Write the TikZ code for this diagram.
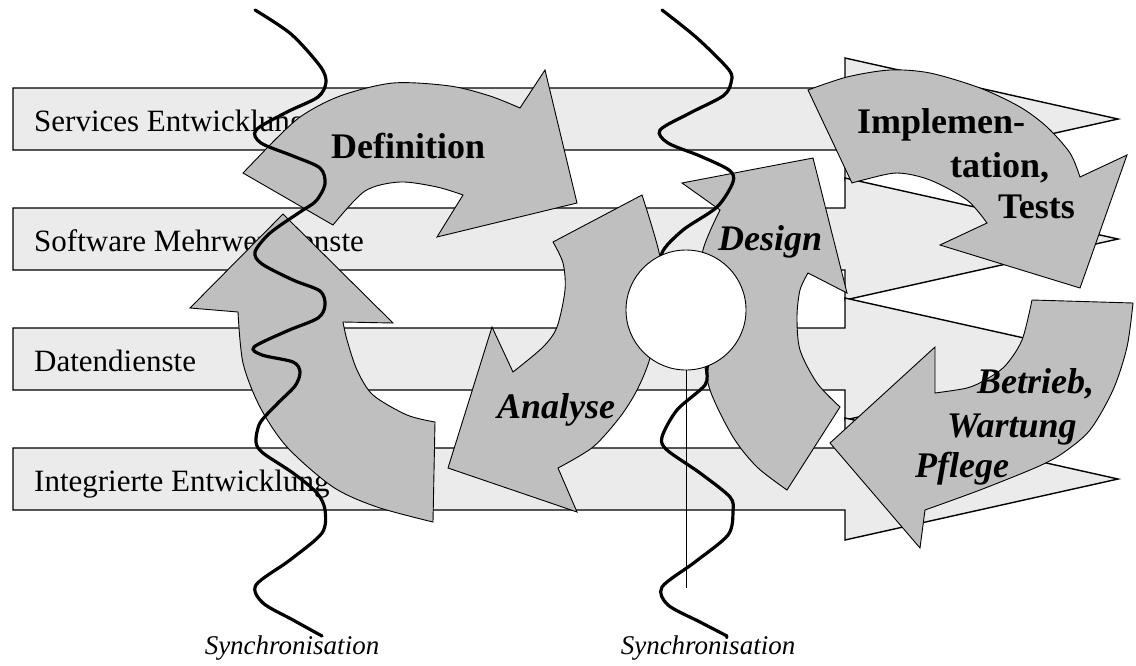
\documentclass[tikz,border=0pt]{standalone}
\usepackage{fontspec}
\setmainfont{Liberation Serif}
\definecolor{bandgray}{gray}{0.92}
\definecolor{phasegray}{gray}{0.75}
\tikzset{
  band/.style={fill=bandgray, draw=black, line width=1.4pt},
  phasearrow/.style={fill=phasegray, draw=black, line width=0.9pt},
  sync/.style={line width=3.2pt, line cap=round},
  bandtext/.style={anchor=base west, inner sep=0pt, font=\fontsize{31}{35}\selectfont},
  phase/.style={anchor=base west, inner sep=0pt, font=\fontsize{36}{40}\selectfont\bfseries},
  phaseit/.style={phase, font=\fontsize{36}{40}\selectfont\bfseries\itshape},
  synctext/.style={inner sep=0pt, font=\fontsize{27}{31}\selectfont\itshape}
}
\begin{document}
\begin{tikzpicture}[x=1pt, y=-1pt]
\useasboundingbox (0,0) rectangle (1136,665);

\draw[band] (13,88) -- (845,88) -- (845,58) -- (1118,119) -- (845,180) -- (845,150) -- (13,150) -- cycle;
\draw[band] (13,208) -- (845,208) -- (845,178) -- (1118,239) -- (845,300) -- (845,270) -- (13,270) -- cycle;
\draw[band] (13,328) -- (845,328) -- (845,298) -- (1118,359) -- (845,420) -- (845,390) -- (13,390) -- cycle;
\draw[band] (13,448) -- (845,448) -- (845,418) -- (1118,479) -- (845,540) -- (845,510) -- (13,510) -- cycle;

\node[bandtext] (services) at (34,131) {Services Entwicklung};
\node[bandtext] (software) at (34,251) {Software Mehrwertdienste};
\node[bandtext] (daten) at (34,371) {Datendienste};
\node[bandtext] (integriert) at (34,491) {Integrierte Entwicklung};

\draw[phasearrow] (243,173) -- (267,148)
  -- plot[smooth] coordinates {(267,148) (300,117) (340,96) (393,83) (450,86) (490,96) (520,108)}
  -- (545,70) -- (577,203) -- (437,237) -- (463,195)
  -- plot[smooth] coordinates {(463,195) (437,187) (400,182) (365,191) (333,225)} -- cycle;

\draw[phasearrow] (238,312)
  -- plot[smooth] coordinates {(238,312) (243,363) (260,407) (287,447) (333,487) (377,507) (433,522)}
  -- (435,422)
  -- plot[smooth] coordinates {(435,422) (407,415) (373,395) (357,370) (347,340) (343,322)}
  -- (393,323) -- (283,214) -- (190,308) -- cycle;

\draw[phasearrow] (553,242) -- (642,195)
  -- plot[smooth] coordinates {(642,195) (660,257) (661,305) (650,358) (637,390) (620,417) (593,447) (558,468)}
  -- (577,512) -- (448,468) -- (492,327) -- (513,372)
  -- plot[smooth] coordinates {(513,372) (543,347) (557,327) (565,290) (563,263) (553,242)} -- cycle;

\draw[phasearrow] (787,490) -- (840,407)
  -- plot[smooth] coordinates {(840,407) (817,383) (800,350) (797,317) (800,290) (808,273)}
  -- (847,293) -- (813,158) -- (682,183) -- (720,210)
  -- plot[smooth] coordinates {(720,210) (703,250) (698,300) (702,345) (710,390) (733,437) (757,467) (787,490)} -- cycle;

\draw[phasearrow] (808,90)
  -- plot[smooth] coordinates {(808,90) (847,77) (890,70) (930,73) (980,88) (1020,107) (1047,127) (1070,153) (1080,177)}
  -- (1127,155) -- (1080,288) -- (940,245) -- (987,223)
  -- plot[smooth] coordinates {(987,223) (967,200) (930,180) (897,173) (863,180) (852,183)} -- cycle;

\draw[phasearrow] (1032,300) -- (1133,303)
  -- plot[smooth] coordinates {(1133,303) (1127,347) (1113,390) (1090,430) (1063,453) (1037,467) (980,490) (925,510)}
  -- (920,548) -- (830,443) -- (935,347) -- (935,393)
  -- plot[smooth] coordinates {(935,393) (967,388) (985,380) (1005,366) (1022,340) (1032,300)} -- cycle;

\node[phase] (definition) at (331,158) {Definition};
\node[phaseit] (analyse) at (497,418) {Analyse};
\node[phaseit] (design) at (718,250) {Design};
\node[phase] (impl1) at (857,133) {Implemen-};
\node[phase] (impl2) at (950,177) {tation,};
\node[phase] (impl3) at (998,218) {Tests};
\node[phaseit] (betrieb1) at (977,393) {Betrieb,};
\node[phaseit] (betrieb2) at (947,437) {Wartung};
\node[phaseit] (betrieb3) at (915,477) {Pflege};

\draw[sync] plot[smooth] coordinates {(255,10) (291,34) (320,66) (326,82) (318,97) (287,112) (256,130) (261,143) (293,156) (320,168) (325,184) (316,201) (300,212) (270,233) (255,252) (262,264) (293,280) (320,291) (325,305) (318,318) (287,331) (254,347) (262,355) (293,362) (300,372) (295,386) (277,404) (260,423) (256,442) (263,453) (293,473) (317,493) (325,510) (322,533) (290,560) (256,585) (263,603) (293,620) (322,636)};
\draw[sync] plot[smooth] coordinates {(662,10) (697,38) (729,70) (731,83) (723,96) (690,113) (660,130) (668,143) (700,156) (729,170) (733,182) (717,207) (683,230) (662,253) (668,275) (700,300) (722,330) (712,352) (707,368) (705,385) (677,410) (662,437) (667,450) (700,473) (730,497) (733,512) (728,535) (695,562) (662,587) (668,605) (700,622) (727,636)};

\node[circle, draw, fill=white, line width=0.9pt, minimum size=120pt, inner sep=0pt] (hub) at (686,310) {};
\coordinate (hubfoot) at (686,588);
\draw[line width=1pt] (hub.south) -- (hubfoot);

\node[synctext] (syncleft) at (292,648) {Synchronisation};
\node[synctext] (syncright) at (708,648) {Synchronisation};

\end{tikzpicture}
\end{document}
